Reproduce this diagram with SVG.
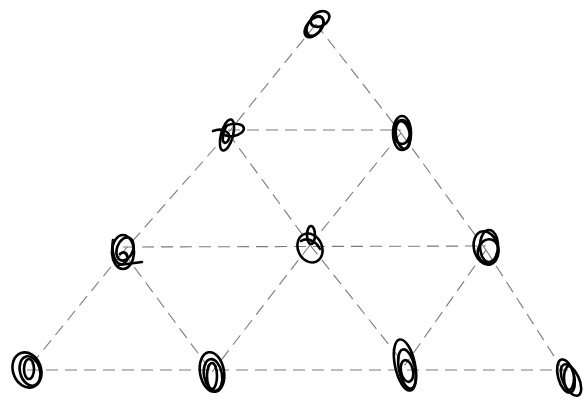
<svg xmlns="http://www.w3.org/2000/svg" width="585" height="401" viewBox="0 0 585 401">
<style>
.e{stroke:#7a7a7a;stroke-width:1.1;stroke-dasharray:12 7;fill:none}
.s{stroke:#000;stroke-width:2.6;fill:none;stroke-linecap:round}
</style>
<rect width="585" height="401" fill="#fff"/>
<g id="connectors">
<line class="e" x1="316" y1="24" x2="228" y2="133"/>
<line class="e" x1="316" y1="24" x2="401" y2="133"/>
<line class="e" x1="228" y1="130" x2="401" y2="130"/>
<line class="e" x1="228" y1="133" x2="123" y2="252"/>
<line class="e" x1="228" y1="133" x2="310" y2="245"/>
<line class="e" x1="401" y1="133" x2="310" y2="245"/>
<line class="e" x1="401" y1="133" x2="486" y2="250"/>
<line class="e" x1="123" y1="247" x2="486" y2="246"/>
<line class="e" x1="123" y1="252" x2="27" y2="370"/>
<line class="e" x1="123" y1="252" x2="212" y2="372"/>
<line class="e" x1="310" y1="245" x2="212" y2="372"/>
<line class="e" x1="310" y1="245" x2="405" y2="365"/>
<line class="e" x1="486" y1="250" x2="405" y2="365"/>
<line class="e" x1="486" y1="250" x2="568" y2="378"/>
<line class="e" x1="27" y1="370" x2="568" y2="370"/>
</g>
<g id="n0" transform="translate(316,24)">
<ellipse class="s" cx="-2" cy="3" rx="12" ry="7" transform="rotate(-50 -2 3)"/>
<ellipse class="s" cx="4" cy="-5" rx="10" ry="7" transform="rotate(-30 4 -5)"/>
<ellipse class="s" cx="-1" cy="2" rx="7" ry="11" transform="rotate(35 -1 2)"/>
</g>
<g id="n1" transform="translate(228,133)">
<ellipse class="s" cx="-1" cy="2" rx="6" ry="16" transform="rotate(15 -1 2)"/>
<ellipse class="s" cx="5" cy="-3" rx="11" ry="6" transform="rotate(-10 5 -3)"/>
<path class="s" d="M-15,-2 C-5,-6 5,0 0,8 C-5,14 -8,5 -2,-6"/>
</g>
<g id="n2" transform="translate(402,133)">
<ellipse class="s" cx="0" cy="0" rx="9" ry="17"/>
<ellipse class="s" cx="1" cy="2" rx="7" ry="14" transform="rotate(-10 1 2)"/>
<ellipse class="s" cx="0" cy="-1" rx="8" ry="12"/>
</g>
<g id="n3" transform="translate(123,252)">
<ellipse class="s" cx="0" cy="0" rx="11" ry="17"/>
<ellipse class="s" cx="2" cy="-3" rx="8" ry="12" transform="rotate(20 2 -3)"/>
<path class="s" d="M-10,-12 C-12,0 -8,14 0,12 C8,8 4,-4 -3,2"/>
<line class="s" x1="-4" y1="13" x2="19" y2="10" stroke-width="1.6"/>
</g>
<g id="n4" transform="translate(310,245)">
<ellipse class="s" cx="0" cy="3" rx="12" ry="15" transform="rotate(-25 0 3)"/>
<ellipse class="s" cx="1" cy="-10" rx="4" ry="9"/>
<path class="s" d="M-9,-4 C-3,-8 6,-4 10,4"/>
</g>
<g id="n5" transform="translate(486,248)">
<ellipse class="s" cx="0" cy="0" rx="12" ry="17" transform="rotate(-15 0 0)"/>
<ellipse class="s" cx="3" cy="-2" rx="9" ry="16"/>
<ellipse class="s" cx="2" cy="3" rx="10" ry="12" transform="rotate(20 2 3)"/>
</g>
<g id="n6" transform="translate(27,370)">
<ellipse class="s" cx="0" cy="0" rx="14" ry="18" transform="rotate(-20 0 0)"/>
<ellipse class="s" cx="3" cy="1" rx="10" ry="15" transform="rotate(-15 3 1)"/>
<ellipse class="s" cx="2" cy="-1" rx="5" ry="10"/>
</g>
<g id="n7" transform="translate(212,372)">
<ellipse class="s" cx="0" cy="0" rx="12" ry="20" transform="rotate(-10 0 0)"/>
<ellipse class="s" cx="1" cy="3" rx="9" ry="16" transform="rotate(-10 1 3)"/>
<ellipse class="s" cx="0" cy="4" rx="5" ry="13"/>
</g>
<g id="n8" transform="translate(405,365)">
<ellipse class="s" cx="0" cy="0" rx="10" ry="26" transform="rotate(-12 0 0)"/>
<ellipse class="s" cx="2" cy="4" rx="8" ry="20" transform="rotate(-12 2 4)"/>
<ellipse class="s" cx="2" cy="6" rx="6" ry="11" transform="rotate(-12 2 6)"/>
</g>
<g id="n9" transform="translate(568,378)">
<ellipse class="s" cx="-2" cy="-2" rx="8" ry="17" transform="rotate(-15 -2 -2)"/>
<ellipse class="s" cx="3" cy="2" rx="8" ry="17" transform="rotate(-25 3 2)"/>
<ellipse class="s" cx="1" cy="0" rx="5" ry="12"/>
</g>
</svg>
